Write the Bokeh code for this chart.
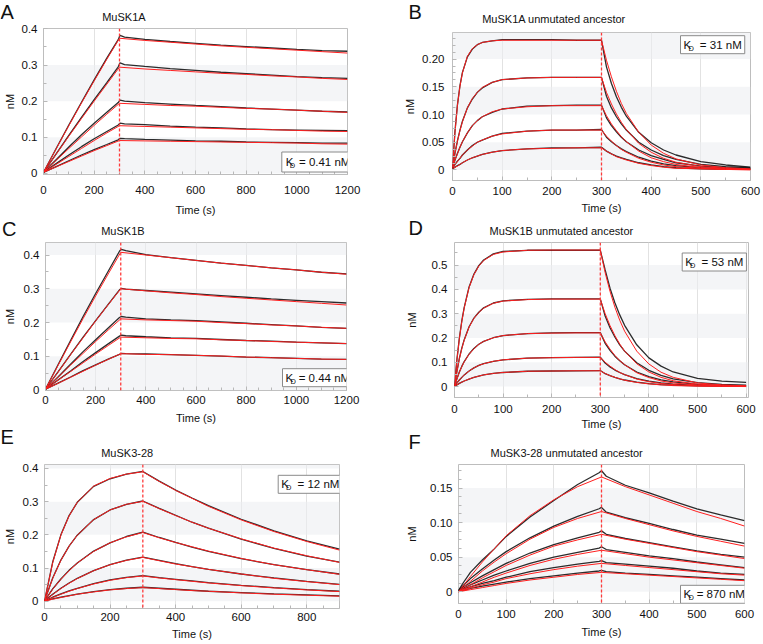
import numpy as np
from bokeh.plotting import figure
from bokeh.models import Range1d, FixedTicker, Label, Span, BoxAnnotation
from bokeh.layouts import row, column
from bokeh.embed import file_html
from bokeh.resources import INLINE

# ------------------------------------------------------------------ data
inject_end = 300  # end of the association phase (s)

# A: MuSK1A
A_title = "MuSK1A"
A_kd = "= 0.41 nM"
A_t_fit = [0, 50, 100, 150, 200, 250, 300, 400, 500, 600, 700, 800, 900, 1000, 1100, 1200]
A_fit = [
    [0.003, 0.068, 0.132, 0.195, 0.256, 0.316, 0.374, 0.368, 0.363, 0.358, 0.353, 0.349, 0.345, 0.341, 0.337, 0.333],
    [0.003, 0.053, 0.103, 0.152, 0.200, 0.247, 0.294, 0.289, 0.285, 0.281, 0.277, 0.274, 0.270, 0.267, 0.263, 0.260],
    [0.003, 0.036, 0.069, 0.101, 0.133, 0.164, 0.194, 0.191, 0.188, 0.186, 0.183, 0.180, 0.178, 0.175, 0.172, 0.169],
    [0.003, 0.025, 0.047, 0.069, 0.091, 0.112, 0.132, 0.130, 0.128, 0.126, 0.124, 0.122, 0.121, 0.119, 0.117, 0.116],
    [0.003, 0.018, 0.033, 0.048, 0.063, 0.077, 0.091, 0.090, 0.089, 0.088, 0.087, 0.086, 0.085, 0.084, 0.082, 0.081],
]
A_t_obs = [0, 50, 100, 150, 200, 250, 295, 302, 320, 400, 500, 600, 700, 800, 900, 1000, 1100, 1200]
A_obs = [
    [0.003, 0.069, 0.134, 0.197, 0.259, 0.319, 0.370, 0.382, 0.377, 0.371, 0.365, 0.360, 0.355, 0.351, 0.347, 0.343, 0.340, 0.338],
    [0.003, 0.054, 0.105, 0.155, 0.204, 0.251, 0.295, 0.306, 0.301, 0.296, 0.290, 0.285, 0.280, 0.276, 0.272, 0.268, 0.265, 0.263],
    [0.003, 0.038, 0.073, 0.107, 0.139, 0.169, 0.196, 0.203, 0.200, 0.196, 0.192, 0.188, 0.185, 0.181, 0.178, 0.175, 0.172, 0.170],
    [0.003, 0.027, 0.051, 0.074, 0.096, 0.116, 0.134, 0.139, 0.137, 0.135, 0.131, 0.128, 0.126, 0.123, 0.121, 0.120, 0.119, 0.118],
    [0.003, 0.019, 0.035, 0.051, 0.066, 0.080, 0.093, 0.097, 0.096, 0.094, 0.092, 0.090, 0.089, 0.087, 0.086, 0.085, 0.084, 0.084],
]
A_xticks = [0, 200, 400, 600, 800, 1000, 1200]
A_yticks = [0, 0.1, 0.2, 0.3, 0.4]
A_ylabels = ["0", "0.1", "0.2", "0.3", "0.4"]

# B: MuSK1A unmutated ancestor
B_title = "MuSK1A unmutated ancestor"
B_kd = " = 31 nM"
B_t = [0, 5, 10, 15, 20, 30, 40, 50, 60, 80, 100, 150, 200, 250, 300,
       310, 320, 330, 340, 350, 375, 400, 425, 450, 500, 550, 600]
B_fit = [
    [0.005, 0.068, 0.117, 0.151, 0.175, 0.205, 0.219, 0.226, 0.230, 0.233, 0.234, 0.234, 0.234, 0.234, 0.234,
     0.198, 0.168, 0.142, 0.120, 0.102, 0.068, 0.045, 0.030, 0.020, 0.009, 0.004, 0.002],
    [0.005, 0.030, 0.052, 0.071, 0.087, 0.112, 0.129, 0.140, 0.149, 0.158, 0.163, 0.166, 0.167, 0.167, 0.167,
     0.140, 0.119, 0.101, 0.086, 0.073, 0.048, 0.032, 0.021, 0.014, 0.006, 0.003, 0.001],
    [0.004, 0.018, 0.029, 0.041, 0.051, 0.067, 0.080, 0.089, 0.096, 0.105, 0.110, 0.114, 0.116, 0.116, 0.116,
     0.098, 0.083, 0.071, 0.060, 0.051, 0.034, 0.022, 0.015, 0.010, 0.004, 0.002, 0.001],
    [0.003, 0.010, 0.015, 0.021, 0.027, 0.036, 0.043, 0.050, 0.054, 0.061, 0.065, 0.070, 0.072, 0.072, 0.072,
     0.061, 0.052, 0.044, 0.037, 0.032, 0.021, 0.014, 0.009, 0.006, 0.003, 0.001, 0.001],
    [0.002, 0.005, 0.007, 0.010, 0.013, 0.018, 0.022, 0.025, 0.028, 0.032, 0.035, 0.038, 0.039, 0.040, 0.040,
     0.034, 0.029, 0.024, 0.021, 0.018, 0.012, 0.008, 0.005, 0.003, 0.002, 0.001, 0.000],
]
B_obs = [
    [0.003, 0.070, 0.118, 0.152, 0.176, 0.204, 0.218, 0.226, 0.230, 0.233, 0.235, 0.235, 0.235, 0.234, 0.234,
     0.186, 0.156, 0.132, 0.113, 0.097, 0.068, 0.049, 0.036, 0.027, 0.015, 0.009, 0.005],
    [0.004, 0.031, 0.053, 0.072, 0.088, 0.112, 0.128, 0.140, 0.148, 0.158, 0.163, 0.166, 0.167, 0.167, 0.167,
     0.133, 0.112, 0.096, 0.083, 0.072, 0.050, 0.036, 0.026, 0.019, 0.010, 0.006, 0.004],
    [0.003, 0.018, 0.030, 0.041, 0.051, 0.067, 0.080, 0.089, 0.096, 0.104, 0.110, 0.115, 0.116, 0.117, 0.117,
     0.094, 0.080, 0.069, 0.059, 0.051, 0.036, 0.026, 0.019, 0.013, 0.007, 0.004, 0.003],
    [0.002, 0.010, 0.016, 0.021, 0.027, 0.036, 0.044, 0.050, 0.054, 0.061, 0.066, 0.070, 0.072, 0.072, 0.073,
     0.059, 0.051, 0.044, 0.038, 0.033, 0.023, 0.016, 0.011, 0.008, 0.004, 0.002, 0.002],
    [0.002, 0.005, 0.008, 0.010, 0.013, 0.018, 0.022, 0.025, 0.028, 0.032, 0.035, 0.038, 0.040, 0.040, 0.041,
     0.034, 0.029, 0.025, 0.022, 0.019, 0.013, 0.009, 0.006, 0.004, 0.002, 0.001, 0.001],
]
B_xticks = [0, 100, 200, 300, 400, 500, 600]
B_yticks = [0, 0.05, 0.10, 0.15, 0.20]
B_ylabels = ["0", "0.05", "0.10", "0.15", "0.20"]

# C: MuSK1B
C_title = "MuSK1B"
C_kd = "= 0.44 nM"
C_t_fit = [0, 50, 100, 150, 200, 250, 300, 400, 500, 600, 700, 800, 900, 1000, 1100, 1200]
C_fit = [
    [0.003, 0.073, 0.143, 0.212, 0.279, 0.344, 0.408, 0.400, 0.392, 0.384, 0.376, 0.369, 0.362, 0.356, 0.349, 0.343],
    [0.003, 0.053, 0.105, 0.155, 0.205, 0.253, 0.300, 0.294, 0.288, 0.283, 0.277, 0.272, 0.267, 0.262, 0.257, 0.252],
    [0.003, 0.038, 0.074, 0.109, 0.144, 0.178, 0.211, 0.208, 0.206, 0.204, 0.200, 0.197, 0.193, 0.190, 0.186, 0.183],
    [0.003, 0.029, 0.055, 0.081, 0.107, 0.132, 0.157, 0.155, 0.153, 0.152, 0.149, 0.147, 0.144, 0.142, 0.140, 0.138],
    [0.003, 0.020, 0.038, 0.056, 0.074, 0.091, 0.108, 0.106, 0.105, 0.103, 0.101, 0.098, 0.096, 0.094, 0.092, 0.091],
]
C_t_obs = [0, 50, 100, 150, 200, 250, 295, 302, 320, 400, 500, 600, 700, 800, 900, 1000, 1100, 1200]
C_obs = [
    [0.003, 0.075, 0.147, 0.218, 0.286, 0.352, 0.411, 0.417, 0.413, 0.401, 0.392, 0.384, 0.376, 0.369, 0.362, 0.356, 0.349, 0.344],
    [0.003, 0.054, 0.106, 0.157, 0.206, 0.254, 0.297, 0.301, 0.299, 0.295, 0.290, 0.285, 0.280, 0.275, 0.270, 0.266, 0.262, 0.258],
    [0.003, 0.039, 0.077, 0.114, 0.149, 0.184, 0.215, 0.218, 0.216, 0.211, 0.208, 0.206, 0.202, 0.198, 0.194, 0.190, 0.186, 0.183],
    [0.003, 0.030, 0.057, 0.085, 0.111, 0.137, 0.160, 0.163, 0.161, 0.158, 0.155, 0.153, 0.150, 0.147, 0.145, 0.142, 0.140, 0.138],
    [0.003, 0.021, 0.039, 0.058, 0.075, 0.092, 0.106, 0.109, 0.108, 0.107, 0.105, 0.103, 0.101, 0.098, 0.096, 0.094, 0.092, 0.091],
]
C_xticks = [0, 200, 400, 600, 800, 1000, 1200]
C_yticks = [0, 0.1, 0.2, 0.3, 0.4]
C_ylabels = ["0", "0.1", "0.2", "0.3", "0.4"]

# D: MuSK1B unmutated ancestor
D_title = "MuSK1B unmutated ancestor"
D_kd = " = 53 nM"
D_t = [0, 5, 10, 15, 20, 30, 40, 50, 60, 80, 100, 150, 200, 250, 300,
       310, 320, 330, 340, 350, 375, 400, 425, 450, 500, 550, 600]
D_fit = [
    [0.003, 0.109, 0.197, 0.267, 0.324, 0.408, 0.461, 0.496, 0.519, 0.544, 0.554, 0.561, 0.562, 0.562, 0.562,
     0.469, 0.392, 0.327, 0.273, 0.228, 0.146, 0.093, 0.059, 0.038, 0.015, 0.007, 0.003],
    [0.003, 0.061, 0.114, 0.156, 0.191, 0.245, 0.281, 0.305, 0.323, 0.343, 0.352, 0.358, 0.360, 0.360, 0.360,
     0.300, 0.251, 0.210, 0.175, 0.146, 0.094, 0.060, 0.038, 0.024, 0.010, 0.004, 0.002],
    [0.002, 0.031, 0.059, 0.082, 0.102, 0.133, 0.156, 0.174, 0.186, 0.201, 0.210, 0.218, 0.220, 0.221, 0.221,
     0.184, 0.154, 0.128, 0.107, 0.090, 0.057, 0.037, 0.023, 0.015, 0.006, 0.003, 0.001],
    [0.002, 0.014, 0.027, 0.037, 0.048, 0.064, 0.077, 0.087, 0.094, 0.104, 0.110, 0.117, 0.119, 0.120, 0.120,
     0.100, 0.084, 0.070, 0.058, 0.049, 0.031, 0.020, 0.013, 0.008, 0.003, 0.002, 0.001],
    [0.001, 0.007, 0.013, 0.018, 0.023, 0.031, 0.038, 0.043, 0.048, 0.054, 0.058, 0.063, 0.064, 0.065, 0.065,
     0.054, 0.045, 0.038, 0.032, 0.026, 0.017, 0.011, 0.007, 0.004, 0.002, 0.001, 0.000],
]
D_obs = [
    [0.002, 0.112, 0.200, 0.270, 0.326, 0.410, 0.463, 0.498, 0.521, 0.546, 0.556, 0.561, 0.561, 0.561, 0.561,
     0.480, 0.405, 0.345, 0.295, 0.252, 0.172, 0.118, 0.084, 0.060, 0.034, 0.022, 0.017],
    [0.002, 0.063, 0.116, 0.158, 0.193, 0.246, 0.282, 0.306, 0.324, 0.344, 0.353, 0.359, 0.361, 0.361, 0.361,
     0.290, 0.242, 0.204, 0.172, 0.146, 0.098, 0.067, 0.046, 0.032, 0.016, 0.009, 0.006],
    [0.002, 0.032, 0.060, 0.083, 0.103, 0.134, 0.157, 0.174, 0.186, 0.201, 0.210, 0.218, 0.221, 0.222, 0.222,
     0.178, 0.149, 0.125, 0.106, 0.090, 0.060, 0.041, 0.028, 0.019, 0.009, 0.005, 0.004],
    [0.002, 0.015, 0.027, 0.038, 0.048, 0.064, 0.077, 0.087, 0.094, 0.104, 0.110, 0.117, 0.119, 0.120, 0.121,
     0.097, 0.081, 0.068, 0.058, 0.049, 0.033, 0.022, 0.015, 0.010, 0.005, 0.003, 0.003],
    [0.001, 0.007, 0.013, 0.018, 0.023, 0.031, 0.038, 0.043, 0.048, 0.054, 0.058, 0.063, 0.064, 0.065, 0.066,
     0.053, 0.045, 0.038, 0.032, 0.027, 0.018, 0.012, 0.008, 0.006, 0.003, 0.002, 0.002],
]
D_xticks = [0, 100, 200, 300, 400, 500, 600]
D_yticks = [0, 0.1, 0.2, 0.3, 0.4, 0.5]
D_ylabels = ["0", "0.1", "0.2", "0.3", "0.4", "0.5"]

# E: MuSK3-28
E_title = "MuSK3-28"
E_kd = " = 12 nM"
E_t = [0, 25, 50, 75, 100, 150, 200, 250, 300, 350, 400, 450, 500, 600, 700, 800, 900]
E_fit = [
    [0.000, 0.116, 0.199, 0.257, 0.298, 0.347, 0.370, 0.383, 0.390, 0.361, 0.334, 0.310, 0.286, 0.245, 0.210, 0.180, 0.154],
    [0.000, 0.069, 0.123, 0.166, 0.199, 0.246, 0.275, 0.292, 0.301, 0.279, 0.258, 0.238, 0.220, 0.188, 0.160, 0.137, 0.117],
    [0.000, 0.036, 0.066, 0.092, 0.115, 0.150, 0.176, 0.194, 0.207, 0.191, 0.177, 0.164, 0.151, 0.129, 0.110, 0.095, 0.081],
    [0.000, 0.020, 0.038, 0.054, 0.068, 0.092, 0.110, 0.123, 0.132, 0.122, 0.112, 0.104, 0.096, 0.082, 0.069, 0.059, 0.050],
    [0.000, 0.011, 0.021, 0.030, 0.038, 0.052, 0.063, 0.071, 0.076, 0.070, 0.065, 0.060, 0.055, 0.047, 0.040, 0.034, 0.029],
    [0.000, 0.006, 0.011, 0.016, 0.021, 0.028, 0.034, 0.038, 0.041, 0.038, 0.035, 0.032, 0.030, 0.025, 0.021, 0.018, 0.015],
]
E_obs = [
    [0.000, 0.118, 0.200, 0.258, 0.298, 0.346, 0.369, 0.383, 0.391, 0.362, 0.335, 0.311, 0.288, 0.247, 0.212, 0.182, 0.157],
    [0.001, 0.070, 0.124, 0.166, 0.199, 0.246, 0.275, 0.292, 0.302, 0.280, 0.259, 0.238, 0.220, 0.187, 0.159, 0.136, 0.118],
    [0.001, 0.037, 0.067, 0.093, 0.115, 0.151, 0.176, 0.195, 0.208, 0.192, 0.177, 0.163, 0.150, 0.128, 0.110, 0.095, 0.082],
    [0.001, 0.021, 0.039, 0.055, 0.069, 0.092, 0.110, 0.124, 0.133, 0.123, 0.113, 0.104, 0.096, 0.082, 0.070, 0.060, 0.051],
    [0.001, 0.012, 0.022, 0.031, 0.039, 0.053, 0.064, 0.072, 0.077, 0.071, 0.066, 0.061, 0.056, 0.048, 0.041, 0.035, 0.030],
    [0.001, 0.007, 0.012, 0.017, 0.021, 0.029, 0.035, 0.039, 0.042, 0.039, 0.036, 0.033, 0.030, 0.026, 0.022, 0.019, 0.016],
]
E_xticks = [0, 200, 400, 600, 800]
E_yticks = [0, 0.1, 0.2, 0.3, 0.4]
E_ylabels = ["0", "0.1", "0.2", "0.3", "0.4"]

# F: MuSK3-28 unmutated ancestor
F_title = "MuSK3-28 unmutated ancestor"
F_kd = "= 870 nM"
F_t_fit = [0, 25, 50, 75, 100, 150, 200, 250, 300, 350, 400, 450, 500, 550, 600]
F_fit = [
    [0.000, 0.022, 0.043, 0.062, 0.081, 0.110, 0.133, 0.152, 0.166, 0.152, 0.140, 0.128, 0.116, 0.106, 0.095],
    [0.000, 0.015, 0.030, 0.043, 0.055, 0.076, 0.093, 0.106, 0.116, 0.106, 0.097, 0.088, 0.080, 0.073, 0.066],
    [0.000, 0.010, 0.020, 0.029, 0.038, 0.053, 0.066, 0.075, 0.083, 0.076, 0.070, 0.064, 0.058, 0.053, 0.048],
    [0.000, 0.007, 0.014, 0.021, 0.027, 0.038, 0.047, 0.054, 0.060, 0.055, 0.050, 0.046, 0.042, 0.038, 0.034],
    [0.000, 0.005, 0.010, 0.014, 0.019, 0.026, 0.032, 0.037, 0.041, 0.038, 0.035, 0.032, 0.029, 0.026, 0.024],
    [0.000, 0.003, 0.006, 0.009, 0.012, 0.017, 0.021, 0.025, 0.028, 0.026, 0.024, 0.022, 0.020, 0.018, 0.016],
]
F_t_obs = [0, 10, 25, 50, 75, 100, 150, 200, 250, 295, 300, 310, 350, 400, 450, 500, 550, 600]
F_obs = [
    [0.002, 0.013, 0.028, 0.046, 0.062, 0.080, 0.108, 0.132, 0.155, 0.172, 0.175, 0.167, 0.154, 0.143, 0.131, 0.120, 0.111, 0.103],
    [0.002, 0.009, 0.019, 0.033, 0.046, 0.058, 0.078, 0.095, 0.109, 0.120, 0.122, 0.115, 0.107, 0.099, 0.090, 0.082, 0.076, 0.070],
    [0.002, 0.007, 0.013, 0.023, 0.032, 0.041, 0.056, 0.068, 0.078, 0.086, 0.088, 0.083, 0.077, 0.071, 0.065, 0.059, 0.054, 0.050],
    [0.001, 0.005, 0.010, 0.017, 0.024, 0.030, 0.041, 0.050, 0.057, 0.063, 0.065, 0.061, 0.057, 0.052, 0.048, 0.043, 0.039, 0.035],
    [0.001, 0.004, 0.007, 0.012, 0.016, 0.021, 0.029, 0.035, 0.040, 0.044, 0.045, 0.042, 0.040, 0.037, 0.034, 0.030, 0.027, 0.025],
    [0.001, 0.002, 0.005, 0.008, 0.011, 0.014, 0.019, 0.023, 0.027, 0.030, 0.031, 0.029, 0.027, 0.025, 0.023, 0.021, 0.019, 0.017],
]
F_xticks = [0, 100, 200, 300, 400, 500, 600]
F_yticks = [0, 0.05, 0.10, 0.15]
F_ylabels = ["0", "0.05", "0.10", "0.15"]

# ------------------------------------------------------------------ style / layout
FONT = "Liberation Sans"
RED = "#ff1e1e"
BLACK = "#151515"
GRAY = "#b8b8b8"
LIFT = {"20px": 6.5, "11px": 4.5, "11.5px": 4.5, "7.5px": 4.0}   # baseline correction (px)

COLS = {"L": (0, 380), "R": (380, 763)}
# vertical splits in page px: header / plot / header / plot / header / plot
SPLITS = {"L": [0, 24, 218, 240, 427, 459, 643], "R": [0, 26, 216, 239, 432, 459, 643]}
FRAMES = {  # frame boxes x0, x1, y0, y1 (page px)
    "A": (43, 347, 28, 174), "C": (43, 346, 242, 390), "E": (43, 339, 464, 608),
    "B": (452, 750, 32, 180), "D": (454, 748, 242, 397), "F": (458, 744, 464, 603),
}
STANDOFF = {  # x label standoff, x axis-label standoff, y label standoff, y axis-label standoff
    "A": (11, 7, 6, 3), "C": (5, 5, 6, 5), "E": (4, 4, 6, 4),
    "B": (6, 4, 8, 3), "D": (7, 2, 7, 11), "F": (6, 5, 6, 9),
}
TXT = {  # page positions (left, baseline)
    "A": dict(letter=(0, 18.3), title=(101.7, 20.7), kd=(281.3, 166.0), pad=4),
    "B": dict(letter=(408, 18.3), title=(481.7, 23.3), kd=(680.0, 48.7), pad=3),
    "C": dict(letter=(1.5, 234.5), title=(100.7, 235.0), kd=(280.0, 381.7), pad=3),
    "D": dict(letter=(408, 234.0), title=(489.0, 235.0), kd=(681.7, 266.0), pad=3),
    "E": dict(letter=(0, 443.3), title=(100.7, 457.3), kd=(276.7, 488.3), pad=3),
    "F": dict(letter=(408, 447.5), title=(490.0, 457.0), kd=(680.0, 598.3), pad=3),
}
PLACE = {"A": ("L", 0), "C": ("L", 1), "E": ("L", 2), "B": ("R", 0), "D": ("R", 1), "F": ("R", 2)}


def geometry(key):
    col, k = PLACE[key]
    cx0, cx1 = COLS[col]
    sp = SPLITS[col]
    htop, hbot, pbot = sp[2 * k], sp[2 * k + 1], sp[2 * k + 2]
    fx0, fx1, fy0, fy1 = FRAMES[key]
    return dict(cx0=cx0, w=cx1 - cx0, htop=htop, hh=hbot - htop, ptop=hbot, ph=pbot - hbot,
                bl=fx0 - cx0, br=cx1 - fx1, bt=fy0 - hbot, bb=pbot - fy1, fx0=fx0, fy1=fy1)


def make_header(key, letter, title):
    g = geometry(key)
    h = figure(width=g["w"], height=g["hh"], x_range=Range1d(0, g["w"]), y_range=Range1d(0, g["hh"]),
               output_backend="svg", toolbar_location=None, x_axis_location=None, y_axis_location=None,
               min_border=0, min_border_left=0, min_border_right=0, min_border_top=0, min_border_bottom=0,
               frame_align=False)
    h.grid.visible = False
    h.outline_line_color = None
    h.background_fill_color = "white"
    h.border_fill_color = "white"
    for (rx, ry), text, size in ((TXT[key]["letter"], letter, "20px"), (TXT[key]["title"], title, "11px")):
        h.add_layout(Label(x=rx - g["cx0"], y=g["hh"] - (ry - g["htop"]) + LIFT[size], text=text,
                           text_font=FONT, text_font_size=size, text_align="left",
                           text_baseline="alphabetic", text_color="#111111"))
    return h


def make_panel(key, kd, t_fit, fit, t_obs, obs, xticks, yticks, ylabels, xr, yr, xminor, yminor):
    g = geometry(key)
    xls, xas, yls, yas = STANDOFF[key]
    p = figure(width=g["w"], height=g["ph"], x_range=Range1d(*xr), y_range=Range1d(*yr),
               output_backend="svg", toolbar_location=None, frame_align=False,
               min_border_left=g["bl"], min_border_right=g["br"],
               min_border_top=g["bt"], min_border_bottom=g["bb"])
    p.background_fill_color = "white"
    p.border_fill_color = "white"
    p.outline_line_color = "#bdbdbd"
    p.outline_line_width = 1

    # faint alternating horizontal bands
    edges = list(yticks) + [yr[1]]
    for i in range(0, len(edges) - 1, 2):
        p.add_layout(BoxAnnotation(bottom=edges[i], top=edges[i + 1], fill_color="#eceef1",
                                   fill_alpha=0.6, line_color=None, level="underlay"))

    xt = FixedTicker(ticks=xticks, minor_ticks=list(np.arange(xr[0], xr[1] + 1e-9, xminor)))
    yt = FixedTicker(ticks=yticks, minor_ticks=list(np.round(np.arange(0, yr[1] + 1e-9, yminor), 5)))
    p.xaxis.ticker = xt
    p.yaxis.ticker = yt
    p.xgrid.ticker = xt
    p.xgrid.grid_line_color = "#e2e2e2"
    p.ygrid.grid_line_color = None
    p.yaxis.major_label_overrides = {v: s for v, s in zip(yticks, ylabels)}

    for ax in (p.xaxis[0], p.yaxis[0]):
        ax.axis_line_color = None
        ax.major_tick_in = 4
        ax.major_tick_out = 0
        ax.minor_tick_in = 3
        ax.minor_tick_out = 0
        ax.major_tick_line_color = GRAY
        ax.minor_tick_line_color = GRAY
        ax.major_label_text_font = FONT
        ax.major_label_text_font_size = "11.5px"
        ax.major_label_text_color = "#111111"
        ax.axis_label_text_font = FONT
        ax.axis_label_text_font_size = "11px"
        ax.axis_label_text_font_style = "normal"
        ax.axis_label_text_color = "#111111"
    p.xaxis.axis_label = "Time (s)"
    p.yaxis.axis_label = "nM"
    p.xaxis.major_label_standoff = xls
    p.xaxis.axis_label_standoff = xas
    p.yaxis.major_label_standoff = yls
    p.yaxis.axis_label_standoff = yas

    for y in obs:
        p.line(t_obs, y, line_color=BLACK, line_width=1.3, line_alpha=0.9)
    for y in fit:
        p.line(t_fit, y, line_color=RED, line_width=1.0)

    p.add_layout(Span(location=inject_end, dimension="height", line_color="#ff3a3a",
                      line_dash="3 2", line_width=1.3))

    # K_D box (frame-relative screen units)
    kx, ky = TXT[key]["kd"]
    gap = "\u00a0\u00a0\u2009" if kd.startswith(" ") else "\u00a0\u2009"
    body = "K" + gap + kd.strip()
    p.add_layout(Label(x=kx - g["fx0"], y=g["fy1"] - ky + LIFT["11.5px"], x_units="screen", y_units="screen",
                       text=body, text_font=FONT, text_font_size="11.5px", text_align="left",
                       text_baseline="alphabetic", text_color="#111111",
                       border_line_color="#8a8a8a", border_line_width=1,
                       background_fill_color="white", padding=TXT[key]["pad"]))
    p.add_layout(Label(x=kx + 7.9 - g["fx0"], y=g["fy1"] - (ky + 3.0) + LIFT["7.5px"],
                       x_units="screen", y_units="screen",
                       text="D", text_font=FONT, text_font_size="7.5px", text_align="left",
                       text_baseline="alphabetic", text_color="#111111"))
    return p


hA = make_header("A", "A", A_title)
pA = make_panel("A", A_kd, A_t_fit, A_fit, A_t_obs, A_obs, A_xticks, A_yticks, A_ylabels,
                (0, 1200), (-0.003, 0.401), 50, 0.05)
hB = make_header("B", "B", B_title)
pB = make_panel("B", B_kd, B_t, B_fit, B_t, B_obs, B_xticks, B_yticks, B_ylabels,
                (0, 600), (-0.019, 0.248), 50, 0.0125)
hC = make_header("C", "C", C_title)
pC = make_panel("C", C_kd, C_t_fit, C_fit, C_t_obs, C_obs, C_xticks, C_yticks, C_ylabels,
                (0, 1200), (-0.001, 0.437), 50, 0.05)
hD = make_header("D", "D", D_title)
pD = make_panel("D", D_kd, D_t, D_fit, D_t, D_obs, D_xticks, D_yticks, D_ylabels,
                (0, 605), (-0.045, 0.593), 50, 0.05)
hE = make_header("E", "E", E_title)
pE = make_panel("E", E_kd, E_t, E_fit, E_t, E_obs, E_xticks, E_yticks, E_ylabels,
                (0, 900), (-0.022, 0.412), 50, 0.05)
hF = make_header("F", "F", F_title)
pF = make_panel("F", F_kd, F_t_fit, F_fit, F_t_obs, F_obs, F_xticks, F_yticks, F_ylabels,
                (0, 600), (-0.017, 0.184), 50, 0.0125)

layout = row(column(hA, pA, hC, pC, hE, pE, spacing=0),
             column(hB, pB, hD, pD, hF, pF, spacing=0), spacing=0)

open("out.html", "w").write(file_html(layout, INLINE))
